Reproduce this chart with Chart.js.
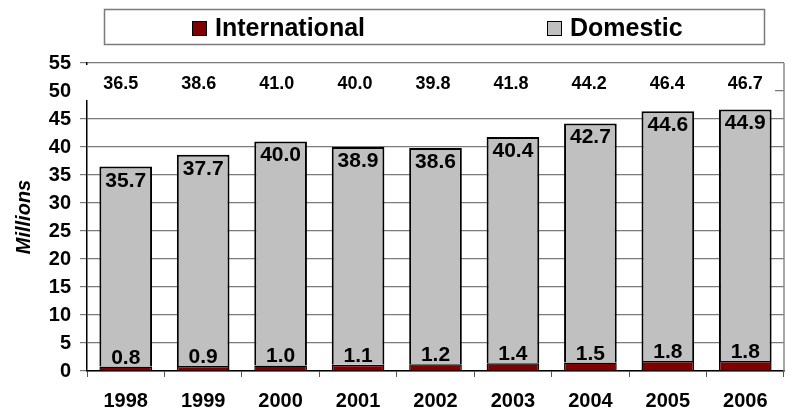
<!DOCTYPE html>
<html><head><meta charset="utf-8">
<script src="https://cdn.jsdelivr.net/npm/chart.js@4/dist/chart.umd.min.js"></script>
<style>html,body{margin:0;padding:0;background:#fff}</style>
</head><body>
<canvas id="c" width="791" height="412" style="display:block;width:791px;height:412px"></canvas>
<script>
const years = ['1998','1999','2000','2001','2002','2003','2004','2005','2006'];
const international = [0.8,0.9,1.0,1.1,1.2,1.4,1.5,1.8,1.8];
const domestic = [35.7,37.7,40.0,38.9,38.6,40.4,42.7,44.6,44.9];
const totals = [36.5,38.6,41.0,40.0,39.8,41.8,44.2,46.4,46.7];
const yMin = 0, yMax = 55, yStep = 5;

const FONT = "'Liberation Sans', Arial, sans-serif";

const overlay = {
  id: 'overlay',
  beforeDatasetsDraw(chart) {
    const ctx = chart.ctx, a = chart.chartArea;
    ctx.save();
    // white band holding totals (covers the 50 gridline)
    ctx.fillStyle = '#fff';
    ctx.fillRect(76, a.top + 2, 775 - 76, 35);
    // right plot border
    ctx.strokeStyle = '#8a8a8a';
    ctx.lineWidth = 1.5;
    ctx.beginPath();
    ctx.moveTo(a.right, a.top);
    ctx.lineTo(a.right, a.bottom);
    ctx.stroke();
    ctx.restore();
  },
  afterDatasetsDraw(chart) {
    const ctx = chart.ctx, a = chart.chartArea;
    const mInt = chart.getDatasetMeta(0), mDom = chart.getDatasetMeta(1);
    ctx.save();
    ctx.fillStyle = '#000';
    ctx.textAlign = 'center';
    ctx.textBaseline = 'alphabetic';
    ctx.font = 'bold 21px ' + FONT;
    mDom.data.forEach((bar, i) => {
      ctx.fillText(domestic[i].toFixed(1), bar.x, bar.y + 20);
    });
    mInt.data.forEach((bar, i) => {
      ctx.fillText(international[i].toFixed(1), bar.x, bar.y - 3);
    });
    ctx.font = 'bold 18px ' + FONT;
    mDom.data.forEach((bar, i) => {
      ctx.fillText(totals[i].toFixed(1), bar.x - 5 * (8 - i) / 8, a.top + 26);
    });
    ctx.restore();
  },
  afterDraw(chart) {
    const ctx = chart.ctx;
    const ds = chart.data.datasets;
    ctx.save();
    ctx.strokeStyle = '#7a7a7a';
    ctx.lineWidth = 1.5;
    ctx.strokeRect(104.5, 9.5, 660, 35);
    const items = [{x: 192, i: 0}, {x: 547, i: 1}];
    ctx.font = 'bold 25px ' + FONT;
    ctx.textAlign = 'left';
    ctx.textBaseline = 'alphabetic';
    items.forEach(it => {
      const d = ds[it.i];
      ctx.fillStyle = d.backgroundColor;
      ctx.fillRect(it.x, 21, 15, 15);
      ctx.strokeStyle = '#000';
      ctx.lineWidth = 1;
      ctx.strokeRect(it.x + 0.5, 21.5, 14, 14);
      ctx.fillStyle = '#000';
      ctx.fillText(d.label, it.x + 23, 36);
    });
    ctx.restore();
  }
};

new Chart(document.getElementById('c'), {
  type: 'bar',
  data: {
    labels: years,
    datasets: [
      { label: 'International', data: international, backgroundColor: '#800000', borderColor: '#000', borderWidth: 1.5, stack: 's' },
      { label: 'Domestic', data: domestic, backgroundColor: '#C0C0C0', borderColor: '#000', borderWidth: 2, stack: 's' }
    ]
  },
  options: {
    responsive: false,
    animation: false,
    devicePixelRatio: 1,
    layout: { padding: { top: 63, right: 7, left: 0, bottom: 0 } },
    datasets: { bar: { categoryPercentage: 1, barPercentage: 0.68 } },
    plugins: { legend: { display: false }, tooltip: { enabled: false } },
    scales: {
      x: {
        stacked: true,
        grid: { drawOnChartArea: false, drawTicks: true, tickLength: 6, color: '#555', offset: true },
        border: { color: '#000', width: 1.5 },
        ticks: { color: '#000', font: { family: FONT, size: 20, weight: 'bold' }, padding: 12, maxRotation: 0 },
        afterFit(s) { s.height = 41; }
      },
      y: {
        stacked: true,
        min: yMin, max: yMax,
        grid: { color: '#7a7a7a', lineWidth: 1.2, tickLength: 7 },
        border: { color: '#000', width: 1.5 },
        ticks: { stepSize: yStep, color: '#000', font: { family: FONT, size: 20, weight: 'bold' }, padding: 9 },
        title: { display: true, text: 'Millions', color: '#000', font: { family: FONT, size: 20, weight: 'bold', style: 'italic' }, padding: { top: 12, bottom: 0 } },
        afterFit(s) { s.width = 87; }
      }
    }
  },
  plugins: [overlay]
});
</script>
</body></html>
